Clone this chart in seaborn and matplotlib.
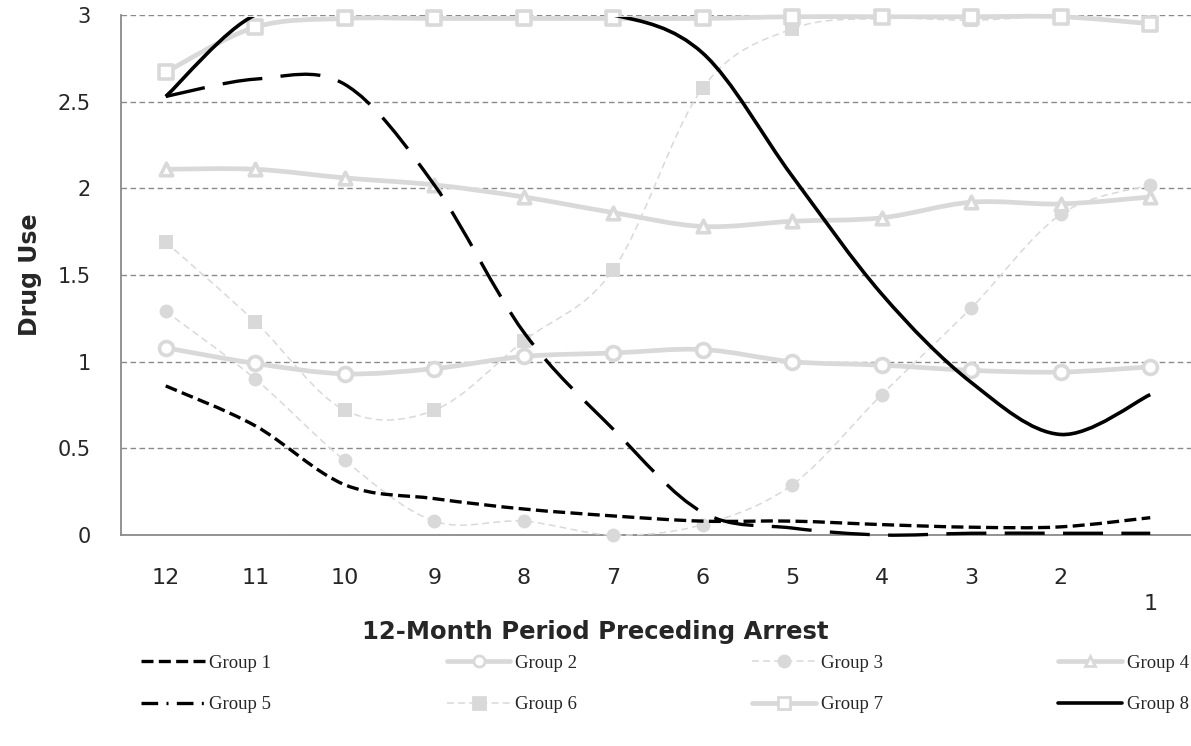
import numpy as np
import matplotlib
matplotlib.use("Agg")
import matplotlib.pyplot as plt
import seaborn as sns
from matplotlib.path import Path
from matplotlib.patches import PathPatch, Rectangle
from matplotlib.lines import Line2D

# --- data ---
months = ["12", "11", "10", "9", "8", "7", "6", "5", "4", "3", "2", "1"]
group1 = [0.86, 0.63, 0.29, 0.21, 0.15, 0.11, 0.08, 0.08, 0.06, 0.045, 0.047, 0.10]
group2 = [1.08, 0.99, 0.93, 0.96, 1.03, 1.05, 1.07, 1.00, 0.98, 0.95, 0.94, 0.97]
group3 = [1.29, 0.90, 0.43, 0.08, 0.08, 0.00, 0.06, 0.29, 0.81, 1.31, 1.85, 2.02]
group4 = [2.11, 2.11, 2.06, 2.02, 1.95, 1.86, 1.78, 1.81, 1.83, 1.92, 1.91, 1.95]
group5 = [2.53, 2.63, 2.60, 2.02, 1.17, 0.61, 0.13, 0.04, 0.00, 0.01, 0.01, 0.01]
group6 = [1.69, 1.23, 0.72, 0.72, 1.12, 1.53, 2.58, 2.92, 2.98, 2.97, 2.99, 2.94]
group7 = [2.67, 2.93, 2.98, 2.98, 2.98, 2.98, 2.98, 2.99, 2.99, 2.99, 2.99, 2.95]
group8 = [2.53, 3.00, 3.00, 3.00, 3.00, 3.00, 2.78, 2.07, 1.39, 0.88, 0.58, 0.81]

LIGHT = "#d9d9d9"
GRID = "#8a8a8a"


def smooth_path(ys):
    """cubic bezier path through the points (excel-like smoothed line)"""
    pts = np.column_stack([np.arange(len(ys)), ys]).astype(float)
    n = len(pts)
    verts, codes = [pts[0]], [Path.MOVETO]
    for i in range(n - 1):
        p0, p1 = pts[max(i - 1, 0)], pts[i]
        p2, p3 = pts[i + 1], pts[min(i + 2, n - 1)]
        verts += [p1 + (p2 - p0) / 6, p2 - (p3 - p1) / 6, p2]
        codes += [Path.CURVE4] * 3
    return Path(verts, codes)


sns.set_style("white")
plt.rcParams["font.family"] = ["DejaVu Sans"]

fig = plt.figure(figsize=(11.91, 7.46), dpi=100)
ax = fig.add_axes([121 / 1191, 211 / 746, 1074 / 1191, 520 / 746])

# style per group: values, colour, width, dashes, marker, marker size, filled
styles = {
    "Group 1": (group1, "black", 2.4, (3.6, 1.6), None, 0, True),
    "Group 2": (group2, LIGHT, 3.4, None, "o", 10, False),
    "Group 3": (group3, LIGHT, 1.1, (4.5, 2.8), "o", 10, True),
    "Group 4": (group4, LIGHT, 3.4, None, "^", 9, False),
    "Group 5": (group5, "black", 2.4, (12, 5.5), None, 0, True),
    "Group 6": (group6, LIGHT, 1.1, (4.5, 2.8), "s", 10, True),
    "Group 7": (group7, LIGHT, 3.4, None, "s", 10, False),
    "Group 8": (group8, "black", 2.6, None, None, 0, True),
}
draw_order = ["Group 2", "Group 3", "Group 4", "Group 6", "Group 7",
              "Group 1", "Group 5", "Group 8"]

x = np.arange(len(months))
for name in draw_order:
    ys, col, lw, dash, mk, ms, filled = styles[name]
    ls = "-" if dash is None else (0, dash)
    patch = PathPatch(smooth_path(ys), fill=False, edgecolor=col, lw=lw,
                      linestyle=ls, capstyle="butt", joinstyle="round", zorder=3)
    ax.add_patch(patch)
    if name == "Group 8":
        # excel hides the part sitting on the top border
        patch.set_clip_path(Rectangle((-1, -1), 14, 3.99, transform=ax.transData))
    else:
        patch.set_clip_on(False)
    if mk is not None:
        sns.scatterplot(x=x, y=ys, ax=ax, marker=mk, s=ms ** 2,
                        color=LIGHT if filled else "white",
                        edgecolor=LIGHT, linewidth=0 if filled else 2.6,
                        zorder=3, clip_on=False, legend=False)

ax.set_xlim(-0.5, 11.5)
ax.set_ylim(0, 3)
ax.set_yticks([0, 0.5, 1, 1.5, 2, 2.5, 3])
ax.set_yticklabels(["0", "0.5", "1", "1.5", "2", "2.5", "3"])
ax.set_xticks(x)
ax.set_xticklabels(months)
ax.set_xticks(np.arange(-0.5, 12, 1), minor=True)

ax.yaxis.grid(True, color=GRID, lw=1.0, linestyle=(0, (4, 2.5)))
ax.set_axisbelow(True)
for side in ["top", "right"]:
    ax.spines[side].set_visible(False)
for side in ["left", "bottom"]:
    ax.spines[side].set_color(GRID)
    ax.spines[side].set_linewidth(1.3)

ax.tick_params(axis="x", which="major", length=0, pad=24, labelsize=16)
ax.tick_params(axis="x", which="minor", length=6, width=1.2, color=GRID,
               direction="out")
ax.tick_params(axis="y", length=5, width=1.2, color=GRID, pad=17, labelsize=15)
ax.xaxis.get_major_ticks()[-1].label1.set_y(-0.05)

ax.set_xlabel("12-Month Period Preceding Arrest", fontsize=17.5, fontweight="bold")
ax.xaxis.set_label_coords((595 - 121) / 1074, (535 - 632) / 520)
ax.xaxis.label.set_va("center")
ax.set_ylabel("Drug Use", fontsize=17, fontweight="bold", labelpad=11)

# legend, filled row by row (G1-G4 on top, G5-G8 below)
names = list(styles)
order = [0, 4, 1, 5, 2, 6, 3, 7]
handles = []
for name in names:
    ys, col, lw, dash, mk, ms, filled = styles[name]
    if name == "Group 5":
        ls = (0, (5, 2.5, 0.6, 2.5))
    else:
        ls = "-" if dash is None else (0, dash)
    handles.append(Line2D([], [], color=col, lw=lw, linestyle=ls,
                          marker=mk if mk else "None", markersize=ms * 0.8,
                          markerfacecolor=col if filled else "white",
                          markeredgecolor=col, markeredgewidth=2,
                          dash_capstyle="butt"))
fig.legend([handles[i] for i in order], [names[i] for i in order],
           loc="center left", ncol=4, frameon=False,
           bbox_to_anchor=(124 / 1191, 1 - 684 / 746),
           prop={"family": "Liberation Serif", "size": 13.5},
           handlelength=3.4, handletextpad=0.25, columnspacing=9.35,
           labelspacing=1.3)

fig.savefig("out.png", dpi=100)
